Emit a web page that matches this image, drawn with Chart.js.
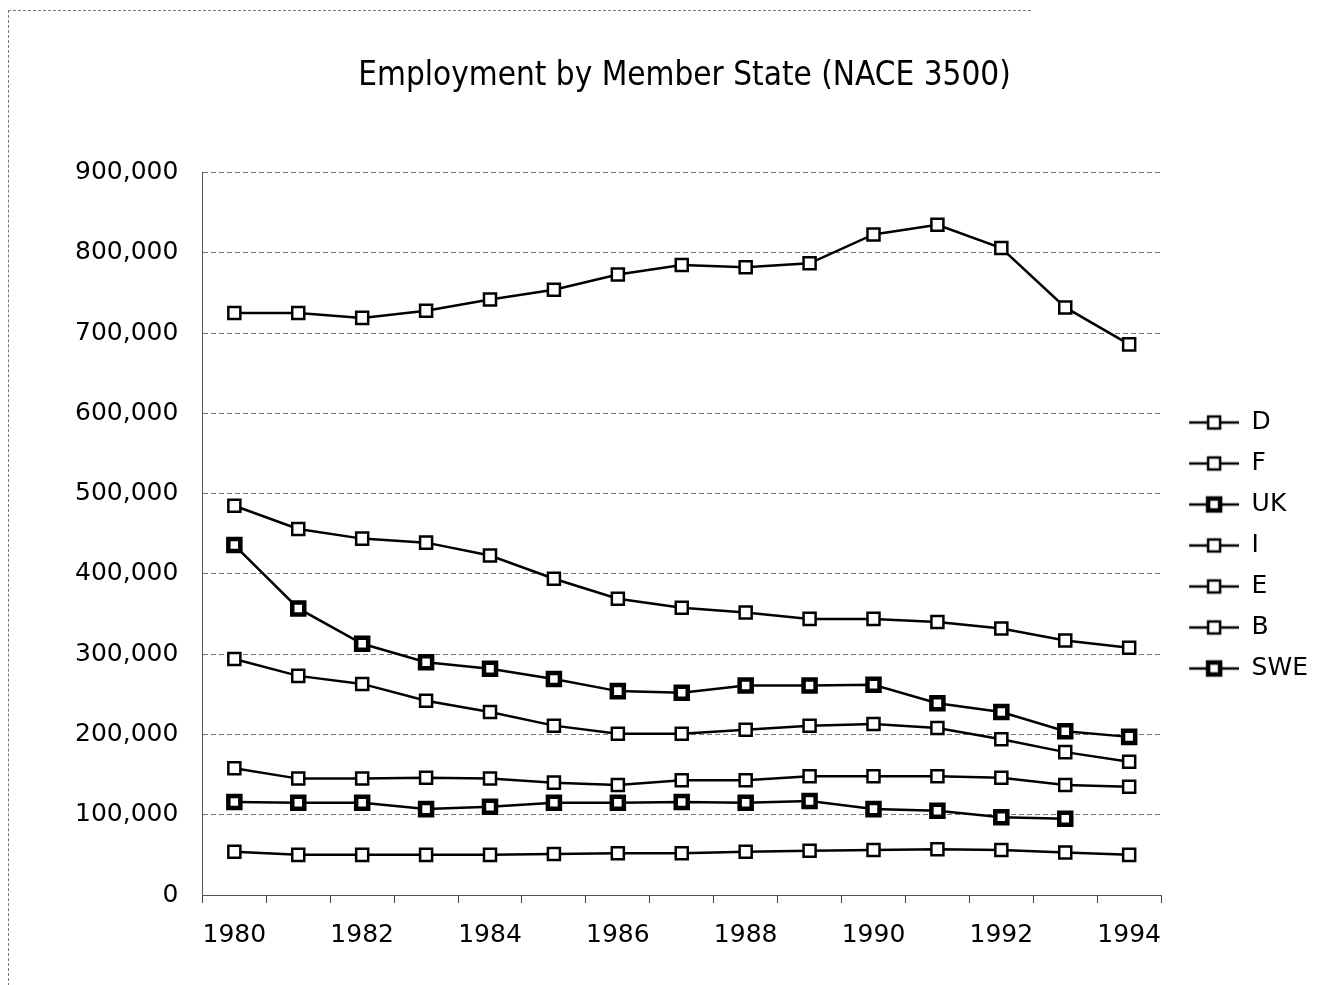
<!DOCTYPE html>
<html lang="en">
<head>
    <meta charset="UTF-8">
    <title>Employment by Member State (NACE 3500)</title>
    <script src="https://cdn.jsdelivr.net/npm/chart.js"></script>
    <style>
        html, body { margin: 0; padding: 0; background: #fff; }
        .frame {
            position: relative;
            width: 1318px;
            height: 985px;
        }
        .frame::before {
            content: "";
            position: absolute;
            left: 8px; top: 10px; width: 1022px; height: 975px;
            border-left: 1px dashed #777;
            border-top: 1px dashed #777;
            pointer-events: none;
        }
        canvas { display: block; }
    </style>
</head>
<body>
<div class="frame">
    <canvas id="chart" width="1318" height="985"></canvas>
</div>

<script>
    // Values
    const years = ['1980', '1981', '1982', '1983', '1984', '1985', '1986', '1987',
                   '1988', '1989', '1990', '1991', '1992', '1993', '1994'];

    const D   = [725000, 725000, 719000, 728000, 742000, 754000, 773000, 785000,
                 782000, 787000, 823000, 835000, 806000, 732000, 686000];
    const F   = [485000, 456000, 444000, 439000, 423000, 394000, 369000, 358000,
                 352000, 344000, 344000, 340000, 332000, 317000, 308000];
    const UK  = [436000, 357000, 313000, 290000, 282000, 269000, 254000, 252000,
                 261000, 261000, 262000, 239000, 228000, 204000, 197000];
    const I   = [294000, 273000, 263000, 242000, 228000, 211000, 201000, 201000,
                 206000, 211000, 213000, 208000, 194000, 178000, 166000];
    const E   = [158000, 145000, 145000, 146000, 145000, 140000, 137000, 143000,
                 143000, 148000, 148000, 148000, 146000, 137000, 135000];
    const B   = [54000, 50000, 50000, 50000, 50000, 51000, 52000, 52000,
                 54000, 55000, 56000, 57000, 56000, 53000, 50000];
    const SWE = [116000, 115000, 115000, 107000, 110000, 115000, 115000, 116000,
                 115000, 117000, 107000, 105000, 97000, 95000, null];

    const yTicks = [0, 100000, 200000, 300000, 400000, 500000, 600000, 700000, 800000, 900000];

    const FONT = "'DejaVu Sans', sans-serif";
    const TITLE_FONT = "'DejaVu Sans Condensed', 'DejaVu Sans', sans-serif";

    // legend symbol: short line with the square marker in the middle
    function legendSymbol(dark) {
        const c = document.createElement('canvas');
        c.width = 62;
        c.height = 20;
        const g = c.getContext('2d');
        g.strokeStyle = '#000';
        g.lineWidth = 2.5;
        g.beginPath();
        g.moveTo(12, 10);
        g.lineTo(62, 10);
        g.stroke();
        g.fillStyle = '#fff';
        g.fillRect(31, 4, 12, 12);
        g.lineWidth = dark ? 4.5 : 2.5;
        g.strokeRect(31, 4, 12, 12);
        return c;
    }

    function series(label, data, dark) {
        return {
            label: label,
            data: data,
            borderColor: '#000',
            borderWidth: 2.5,
            backgroundColor: '#fff',
            pointStyle: 'rect',
            pointRadius: 8.5,
            pointHoverRadius: 8.5,
            pointBackgroundColor: '#fff',
            pointBorderColor: '#000',
            pointBorderWidth: dark ? 4.5 : 2.5,
            spanGaps: false,
            fill: false,
            tension: 0,
            dark: dark
        };
    }

    const datasets = [
        series('D', D, false),
        series('F', F, false),
        series('UK', UK, true),
        series('I', I, false),
        series('E', E, false),
        series('B', B, false),
        series('SWE', SWE, true)
    ];

    new Chart(document.getElementById('chart'), {
        type: 'line',
        data: { labels: years, datasets: datasets },
        options: {
            responsive: false,
            animation: false,
            layout: { padding: { left: 51, right: 0, top: 0, bottom: 18 } },
            plugins: {
                title: {
                    display: true,
                    text: 'Employment by Member State (NACE 3500)',
                    color: '#000',
                    font: { family: TITLE_FONT, size: 33, weight: 'normal' },
                    padding: { top: 57, bottom: 76 }
                },
                legend: {
                    position: 'right',
                    title: {
                        display: true,
                        text: ' ',
                        font: { family: FONT, size: 25 },
                        padding: 47
                    },
                    labels: {
                        usePointStyle: true,
                        pointStyleWidth: 62,
                        color: '#000',
                        font: { family: FONT, size: 25 },
                        padding: 16,
                        generateLabels: function (chart) {
                            return chart.data.datasets.map((ds, i) => ({
                                text: ds.label,
                                fillStyle: '#fff',
                                strokeStyle: '#000',
                                lineWidth: 0,
                                pointStyle: legendSymbol(ds.dark),
                                hidden: false,
                                datasetIndex: i,
                                fontColor: '#000'
                            }));
                        }
                    }
                },
                tooltip: { enabled: false }
            },
            scales: {
                x: {
                    type: 'category',
                    offset: true,
                    grid: {
                        offset: true,
                        drawOnChartArea: false,
                        drawTicks: true,
                        tickLength: 8,
                        color: '#444'
                    },
                    border: { color: '#555', width: 1, dash: [5, 3] },
                    ticks: {
                        autoSkip: false,
                        maxRotation: 0,
                        padding: 17,
                        color: '#000',
                        font: { family: FONT, size: 25 },
                        callback: function (value, index) {
                            const y = years[index];
                            return (Number(y) % 2 === 0) ? y : '';
                        }
                    }
                },
                y: {
                    min: 0,
                    max: 900000,
                    afterBuildTicks: function (axis) {
                        axis.ticks = yTicks.map(v => ({ value: v }));
                    },
                    grid: {
                        drawTicks: false,
                        color: '#777',
                        lineWidth: 1
                    },
                    border: { color: '#555', width: 1, dash: [5, 3] },
                    ticks: {
                        padding: 24,
                        color: '#000',
                        font: { family: FONT, size: 25 },
                        callback: function (value) {
                            return value.toLocaleString('en-US');
                        }
                    }
                }
            }
        }
    });
</script>
</body>
</html>
